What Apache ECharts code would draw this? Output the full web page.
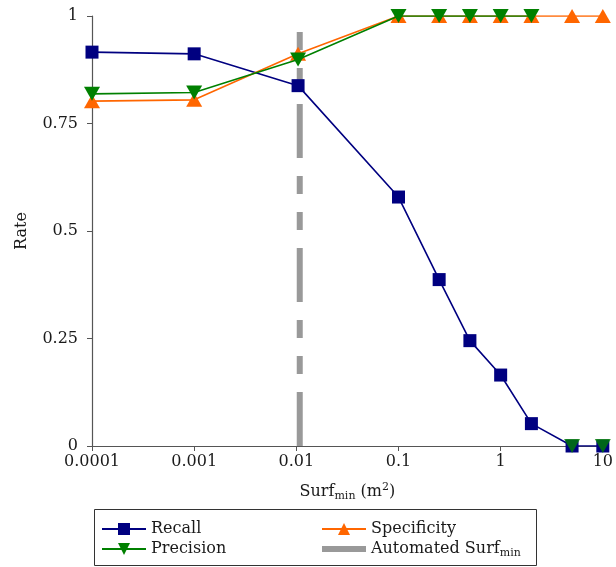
<!DOCTYPE html>
<html>
<head>
<meta charset="utf-8">
<script src="https://cdn.jsdelivr.net/npm/echarts@6/dist/echarts.min.js"></script>
<style>
html,body{margin:0;padding:0;background:#fff;}
#chart{width:616px;height:567px;}
</style>
</head>
<body>
<div id="chart"></div>
<script>
// ---- data ----
const surfValues = [0.0001, 0.001, 0.0104, 0.1, 0.25, 0.5, 1, 2, 5, 10];
const recall      = [0.916, 0.912, 0.838, 0.579, 0.387, 0.245, 0.165, 0.052, 0, 0];
const specificity = [0.802, 0.805, 0.912, 1, 1, 1, 1, 1, 1, 1];
const precision   = [0.819, 0.822, 0.899, 1, 1, 1, 1, 1, null, null];
const precisionEmpty = [null, null, null, null, null, null, null, null, 0, 0];
const automatedSurfMin = 0.0108;
const automatedLineY = [0, 1];
const xTickLabels = ['0.0001', '0.001', '0.01', '0.1', '1', '10'];
const yTickValues = [0, 0.25, 0.5, 0.75, 1];

const FONT = 'DejaVu Serif';
const TXT = '#1a1a1a';
const AX = '#555555';

function pairs(xs, ys) {
  const out = [];
  xs.forEach((x, i) => { if (ys[i] !== null) out.push([x, ys[i]]); });
  return out;
}

const chart = echarts.init(document.getElementById('chart'), null, {renderer: 'canvas'});
const richSub = {
  a: {fontFamily: FONT, fontSize: 16, color: TXT, lineHeight: 20, verticalAlign: 'middle'},
  s: {fontFamily: FONT, fontSize: 11, color: TXT, lineHeight: 11, verticalAlign: 'bottom'},
  p: {fontFamily: FONT, fontSize: 11, color: TXT, lineHeight: 11, verticalAlign: 'top'}
};

chart.setOption({
  animation: false,
  backgroundColor: '#ffffff',
  textStyle: {fontFamily: FONT, color: TXT},
  grid: {left: 92, right: 12, top: 16, bottom: 121, containLabel: false},
  xAxis: {
    type: 'log', logBase: 10, min: 0.0001, max: 10,
    name: '{a|Surf}{s|min}{a| (m}{p|2}{a|)}',
    nameLocation: 'middle', nameGap: 36,
    nameTextStyle: {rich: richSub},
    axisLine: {show: true, onZero: false, lineStyle: {color: AX, width: 1.2}},
    axisTick: {show: true, length: 5, lineStyle: {color: AX}},
    minorTick: {show: false},
    splitLine: {show: false},
    axisLabel: {
      fontFamily: FONT, fontSize: 16, color: TXT, margin: 8,
      formatter: v => xTickLabels[Math.round(Math.log10(v)) + 4]
    }
  },
  yAxis: {
    type: 'value', min: 0, max: 1, interval: 0.25,
    name: 'Rate', nameLocation: 'middle', nameGap: 62,
    nameTextStyle: {fontFamily: FONT, fontSize: 16, color: TXT},
    axisLine: {show: true, lineStyle: {color: AX, width: 1.2}},
    axisTick: {show: true, length: 5, lineStyle: {color: AX}},
    splitLine: {show: false},
    axisLabel: {
      fontFamily: FONT, fontSize: 16, color: TXT, margin: 14,
      formatter: v => yTickValues.includes(v) ? String(v) : ''
    }
  },
  legend: [
    {
      data: ['Recall', 'Precision'],
      orient: 'vertical', left: 96, top: 516,
      itemWidth: 44, itemHeight: 15, itemGap: 4,
      textStyle: {fontFamily: FONT, fontSize: 16, color: TXT},
      selectedMode: false
    },
    {
      data: ['Specificity', {
        name: 'Automated Surfmin',
        lineStyle: {type: 'solid', width: 6, color: '#999999'},
        itemStyle: {color: 'rgba(0,0,0,0)', borderWidth: 0, borderColor: 'rgba(0,0,0,0)'}
      }],
      orient: 'vertical', left: 314, top: 516,
      itemWidth: 44, itemHeight: 15, itemGap: 4,
      formatter: n => n === 'Automated Surfmin' ? '{a|Automated Surf}{s|min}' : n,
      textStyle: {fontFamily: FONT, fontSize: 16, color: TXT, rich: richSub},
      selectedMode: false
    }
  ],
  graphic: [
    {type: 'rect', shape: {x: 94.5, y: 509.5, width: 442, height: 56},
     style: {fill: null, stroke: '#333333', lineWidth: 1}, z: 0}
  ],
  series: [
    {
      name: 'Automated Surfmin', type: 'line',
      data: automatedLineY.map(y => [automatedSurfMin, y]),
      symbol: 'none', color: '#999999',
      lineStyle: {color: '#999999', width: 6, type: [54, 18, 18, 18, 18, 18], cap: 'butt'},
      z: 1
    },
    {
      name: 'Recall', type: 'line', data: pairs(surfValues, recall),
      symbol: 'rect', symbolSize: 13, color: '#000080',
      lineStyle: {color: '#000080', width: 1.6},
      itemStyle: {color: '#000080'}, z: 2
    },
    {
      name: 'Specificity', type: 'line', data: pairs(surfValues, specificity),
      symbol: 'triangle', symbolSize: [16, 14], color: '#ff6600',
      lineStyle: {color: '#ff6600', width: 1.6},
      itemStyle: {color: '#ff6600'}, z: 3
    },
    {
      name: 'Precision', type: 'line', data: pairs(surfValues, precision),
      symbol: 'triangle', symbolSize: [16, 14], symbolRotate: 180, color: '#008000',
      lineStyle: {color: '#008000', width: 1.6},
      itemStyle: {color: '#008000'}, z: 4
    },
    {
      name: 'PrecisionNoLine', type: 'scatter', data: pairs(surfValues, precisionEmpty),
      symbol: 'triangle', symbolSize: [16, 14], symbolRotate: 180,
      itemStyle: {color: '#008000'}, z: 5
    }
  ]
});
</script>
</body>
</html>
